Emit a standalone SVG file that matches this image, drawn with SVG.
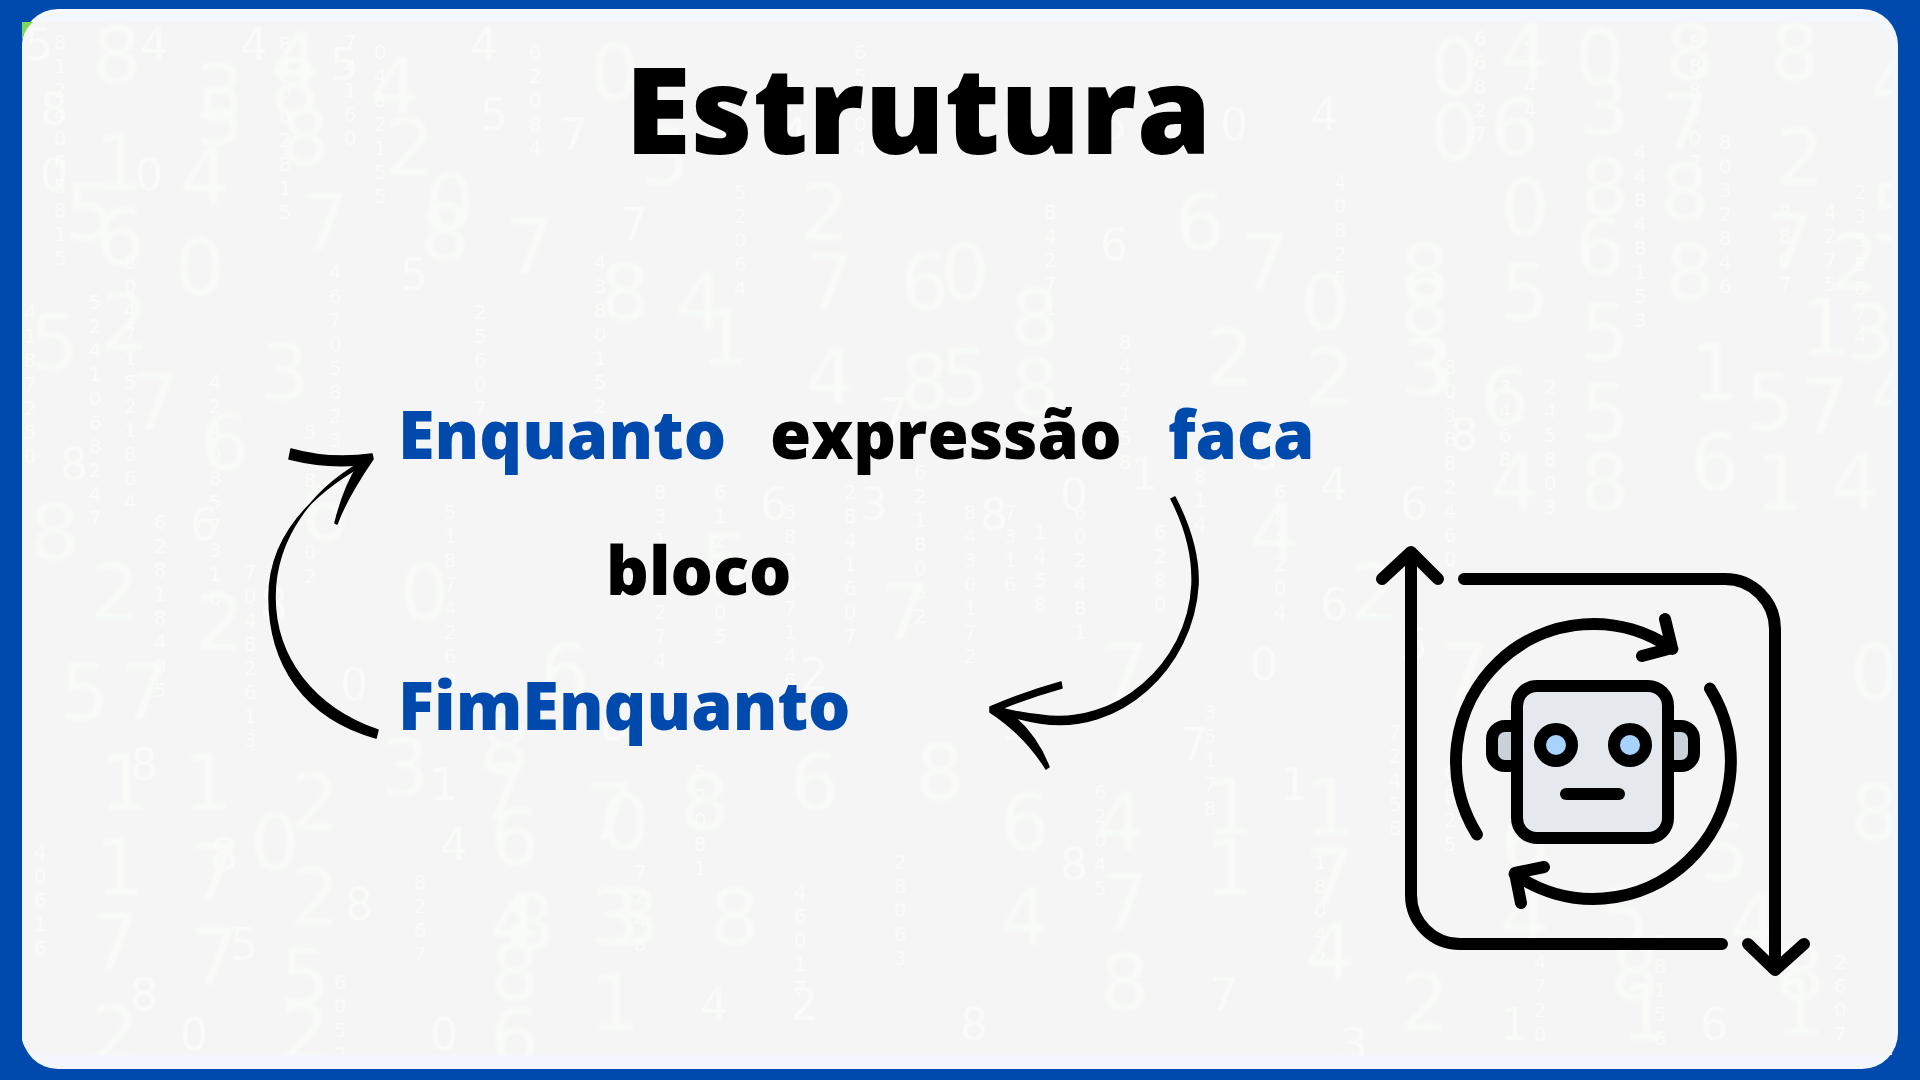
<svg xmlns="http://www.w3.org/2000/svg" width="1920" height="1080" viewBox="0 0 1920 1080">
<style>
.l{font:400 78px "DejaVu Sans",sans-serif;fill:#f8fbf7}
.m{font:400 44px "DejaVu Sans",sans-serif;fill:#f9fbf8}
.s{font:400 20px "DejaVu Sans",sans-serif;fill:#f9fcf8}
.v{writing-mode:vertical-rl;text-orientation:upright}
.ic{fill:none;stroke:#000;stroke-width:12;stroke-linecap:round;stroke-linejoin:round}
.t{font-family:"Open Sans","Noto Sans",sans-serif;font-weight:800;font-size:66.7px}
.b{fill:#004aad}
</style>
<defs>
<clipPath id="c"><path d="M22,45Q24,30 33,22H1877Q1889,30 1892,45V1055H40Q26,1055 22,1040Z"/></clipPath>
<filter id="bl" x="-2%" y="-2%" width="104%" height="104%"><feGaussianBlur stdDeviation="1.6"/></filter>
<filter id="bs" x="-2%" y="-2%" width="104%" height="104%"><feGaussianBlur stdDeviation=".6"/></filter>
</defs>
<rect width="1920" height="1080" fill="#004aad"/>
<rect x="22" y="9" width="1876" height="1060" rx="36" fill="#f4f8fe"/>
<path d="M22,45Q24,30 33,22H1877Q1889,30 1892,45V1055H40Q26,1055 22,1040Z" fill="#f5f5f5"/>
<path d="M22,22H33Q25,29 22,40Z" fill="#7ed957"/>
<g id="bg" clip-path="url(#c)">
<g class="l" filter="url(#bl)">
<text x="92" y="83">8</text><text x="195" y="120">3</text><text x="95" y="190">1</text><text x="180" y="205">4</text><text x="95" y="265">6</text><text x="175" y="295">0</text><text x="65" y="240">5</text><text x="195" y="145">5</text>
<text x="270" y="115">8</text><text x="280" y="165">8</text><text x="270" y="90">4</text><text x="370" y="115">4</text><text x="385" y="175">2</text><text x="425" y="230">0</text><text x="505" y="275">7</text><text x="420" y="260">8</text><text x="300" y="250">7</text>
<text x="590" y="100">0</text><text x="640" y="185">5</text><text x="800" y="240">2</text><text x="805" y="310">7</text><text x="900" y="310">6</text><text x="940" y="300">0</text><text x="1010" y="345">8</text><text x="1175" y="250">6</text><text x="1240" y="290">7</text><text x="1300" y="330">0</text><text x="1400" y="335">8</text>
<text x="600" y="320">8</text><text x="675" y="330">4</text><text x="700" y="365">1</text><text x="805" y="405">4</text><text x="900" y="410">8</text><text x="940" y="405">5</text><text x="1010" y="415">8</text><text x="1205" y="385">2</text><text x="1305" y="405">2</text><text x="1400" y="395">3</text>
<text x="1500" y="80">4</text><text x="1430" y="95">0</text><text x="1490" y="155">6</text><text x="1430" y="160">0</text><text x="1575" y="85">0</text><text x="1665" y="80">8</text><text x="1770" y="80">8</text><text x="1500" y="235">0</text><text x="1580" y="135">3</text><text x="1580" y="215">8</text><text x="1575" y="275">6</text><text x="1660" y="150">7</text><text x="1660" y="220">8</text><text x="1775" y="185">2</text><text x="1765" y="270">7</text><text x="1665" y="300">8</text><text x="1830" y="290">2</text><text x="1500" y="320">5</text><text x="1400" y="300">8</text><text x="1405" y="395">3</text><text x="1580" y="360">5</text><text x="1800" y="355">1</text><text x="1845" y="360">3</text><text x="1690" y="400">1</text><text x="1580" y="440">5</text><text x="1800" y="435">7</text><text x="1745" y="430">5</text><text x="1480" y="425">6</text><text x="1690" y="490">6</text><text x="1490" y="510">4</text><text x="1755" y="510">1</text><text x="1830" y="510">4</text><text x="1580" y="510">8</text>
<text x="1870" y="110">4</text><text x="1870" y="420">4</text><text x="1870" y="240">5</text>
<text x="30" y="370">5</text><text x="100" y="350">2</text><text x="130" y="430">7</text><text x="260" y="400">3</text><text x="200" y="470">6</text><text x="300" y="540">6</text><text x="90" y="620">2</text><text x="30" y="560">8</text><text x="195" y="650">2</text><text x="120" y="720">7</text><text x="60" y="720">5</text>
<text x="100" y="810">1</text><text x="183" y="810">1</text><text x="290" y="830">2</text><text x="95" y="895">1</text><text x="190" y="900">7</text><text x="250" y="870">0</text><text x="380" y="795">3</text><text x="585" y="840">7</text><text x="478" y="820">7</text><text x="480" y="775">8</text><text x="490" y="865">6</text><text x="290" y="925">2</text><text x="90" y="970">7</text><text x="190" y="985">7</text><text x="490" y="950">4</text><text x="590" y="945">3</text><text x="490" y="1000">8</text><text x="590" y="1030">1</text><text x="280" y="1005">5</text><text x="280" y="1060">2</text><text x="90" y="1062">2</text><text x="490" y="1065">6</text>
<text x="600" y="850">0</text><text x="680" y="830">8</text><text x="790" y="810">6</text><text x="915" y="800">8</text><text x="1000" y="850">6</text><text x="1095" y="850">4</text><text x="1205" y="835">1</text><text x="1305" y="835">1</text>
<text x="505" y="950">8</text><text x="610" y="945">3</text><text x="710" y="945">8</text><text x="1000" y="945">4</text><text x="1100" y="930">7</text><text x="1205" y="895">1</text><text x="1305" y="905">7</text><text x="1305" y="980">4</text><text x="1100" y="1010">8</text><text x="1500" y="870">6</text><text x="1600" y="945">5</text><text x="1500" y="945">4</text><text x="1700" y="880">5</text><text x="1775" y="1035">1</text><text x="1775" y="1000">8</text><text x="1620" y="1040">1</text><text x="1400" y="1030">2</text>
<text x="540" y="700">6</text><text x="400" y="620">0</text><text x="700" y="590">5</text><text x="880" y="640">7</text><text x="1100" y="700">7</text><text x="1250" y="560">4</text><text x="1350" y="620">2</text><text x="1440" y="700">7</text><text x="1610" y="1000">8</text><text x="1730" y="950">4</text><text x="1850" y="700">0</text><text x="1850" y="840">8</text>
</g>
<g class="m" filter="url(#bs)">
<text x="25" y="60">5</text><text x="140" y="60">4</text><text x="240" y="60">4</text><text x="330" y="80">5</text><text x="470" y="60">4</text><text x="40" y="190">0</text><text x="40" y="125">8</text><text x="135" y="190">0</text><text x="480" y="130">5</text><text x="560" y="150">7</text><text x="700" y="130">0</text><text x="760" y="150">8</text><text x="870" y="120">6</text><text x="1000" y="120">3</text><text x="1100" y="140">5</text><text x="1220" y="140">0</text><text x="1310" y="130">4</text>
<text x="400" y="290">5</text><text x="620" y="240">7</text><text x="780" y="150">4</text><text x="1100" y="260">6</text><text x="1130" y="490">1</text><text x="1250" y="470">8</text><text x="1320" y="500">4</text><text x="1400" y="520">6</text><text x="1450" y="450">8</text><text x="1320" y="620">6</text><text x="1250" y="680">0</text><text x="1400" y="660">5</text><text x="760" y="520">6</text><text x="860" y="520">3</text><text x="980" y="530">8</text><text x="1060" y="510">0</text><text x="880" y="430">7</text>
<text x="260" y="620">8</text><text x="190" y="540">6</text><text x="60" y="480">8</text><text x="340" y="700">0</text><text x="430" y="800">1</text><text x="600" y="740">8</text><text x="800" y="690">2</text><text x="1000" y="740">1</text><text x="1180" y="760">7</text><text x="1280" y="800">1</text><text x="1060" y="880">8</text><text x="790" y="1020">2</text><text x="960" y="1040">8</text><text x="700" y="1020">4</text><text x="1210" y="1010">7</text><text x="1340" y="1060">3</text><text x="1500" y="1040">1</text><text x="1700" y="1040">6</text>
<text x="130" y="780">8</text><text x="210" y="870">8</text><text x="230" y="960">5</text><text x="345" y="920">8</text><text x="440" y="860">4</text><text x="430" y="1050">0</text><text x="180" y="1050">0</text><text x="130" y="1010">8</text>
</g>
<g class="s v">
<text x="60" y="30">8124065815</text><text x="95" y="290">5241068247</text><text x="130" y="250">80471521864</text><text x="160" y="510">62818405</text><text x="215" y="370">4240857316</text><text x="30" y="300">4187250</text>
<text x="285" y="32">84062815</text><text x="335" y="260">46705823</text><text x="380" y="40">0482155</text><text x="450" y="500">51874260</text><text x="535" y="40">62084</text><text x="600" y="250">4380152</text><text x="660" y="480">83165274</text><text x="250" y="560">70482613</text><text x="310" y="420">5184702</text><text x="350" y="30">74160</text><text x="480" y="300">2560748</text>
<text x="720" y="480">6124805</text><text x="790" y="500">58207146</text><text x="850" y="480">2841607</text><text x="1010" y="500">7316</text><text x="1080" y="500">602481</text><text x="740" y="180">52064</text><text x="1050" y="200">84271</text><text x="1340" y="170">40825</text>
<text x="860" y="40">65104</text><text x="920" y="460">6218052</text><text x="970" y="500">8430172</text><text x="1040" y="520">1458</text><text x="1125" y="330">842158</text><text x="1160" y="520">6280</text><text x="1200" y="440">2814</text><text x="1280" y="480">681204</text><text x="1480" y="26">66827</text><text x="1530" y="26">2744</text><text x="1640" y="140">44848153</text><text x="1695" y="30">888207</text><text x="1725" y="130">8032846</text><text x="1785" y="200">8807</text><text x="1830" y="200">4275</text><text x="1860" y="180">2355674</text><text x="1505" y="375">3468</text><text x="1450" y="355">803882460</text>
<text x="1550" y="375">245803</text><text x="1395" y="720">72458</text><text x="1450" y="760">6825</text><text x="1320" y="850">18042</text><text x="1210" y="700">35178</text><text x="1100" y="780">62045</text><text x="900" y="850">28063</text><text x="800" y="880">46017</text><text x="700" y="760">52081</text><text x="640" y="860">7248</text><text x="1540" y="950">4720</text><text x="1660" y="930">28156</text><text x="1840" y="950">2607</text><text x="420" y="870">8267</text><text x="40" y="840">40616</text><text x="340" y="970">6052</text>
</g>
</g>
<g id="connectors" fill="#000" stroke="#000" stroke-width="1.5" stroke-linejoin="round">
<g id="loop-back">
<path d="M378,730C314,708 275,658 275,597C275,538 313,486 371,457L372,460C312,492 269,535 269,597C269,664 304,718 376,738Z"/>
<path d="M291,449Q330,460 372,454L373,459Q347,497 337,524L335,523Q343,490 358,465Q325,468 289,459Z"/>
</g>
<g id="loop-forward">
<path d="M1171,499L1175,497C1192,530 1199,560 1198,585C1193,668 1120,736 1040,723Q1020,720 995,712L1000,708Q1020,713 1040,715C1115,727 1188,665 1192,585C1193,560 1187,530 1171,499Z"/>
<path d="M1061,682Q1025,692 990,707L990,712Q1025,735 1046,769L1049,767Q1035,730 1003,708Q1030,697 1062,688Z"/>
</g>
</g>
<g id="title"><text x="625" y="154" font-family="'Open Sans','Noto Sans',sans-serif" font-weight="800" font-size="120">Estrutura</text></g>
<g id="line-enquanto"><text class="t b" x="398" y="459">Enquanto</text><text class="t" x="770" y="459">expressão</text><text class="t b" x="1168" y="459">faca</text></g>
<g id="line-bloco"><text class="t" x="606" y="595">bloco</text></g>
<g id="line-fim"><text class="t b" x="398" y="730">FimEnquanto</text></g>
<g id="robot-icon">
<path class="ic" d="M1382,579L1411,552L1438,579M1411,552V895A49,49 0 0 0 1460,944H1722M1464,579H1725A50,50 0 0 1 1775,629V970M1748,944L1775,970L1804,944"/>
<path class="ic" d="M1476.9,834.4A137.5,137.5 0 0 1 1672.4,648.9M1665,619L1672,648L1642,656M1710,688.6A137.5,137.5 0 0 1 1514.6,874.1M1544,867L1515,873L1521,903"/>
<path class="ic" d="M1517,726H1505A13,13 0 0 0 1492,739V753A13,13 0 0 0 1505,766H1517Z" style="fill:#cbd1da"/>
<path class="ic" d="M1668,726H1681A13,13 0 0 1 1694,739V753A13,13 0 0 1 1681,766H1668Z" style="fill:#cbd1da"/>
<rect class="ic" x="1517" y="686" width="151" height="152" rx="20" style="fill:#e5e8ec"/>
<circle class="ic" cx="1556" cy="745" r="16" style="fill:#a8d3fd"/>
<circle class="ic" cx="1630" cy="745" r="16" style="fill:#a8d3fd"/>
<path class="ic" d="M1566,794H1619"/>
</g>
</svg>
